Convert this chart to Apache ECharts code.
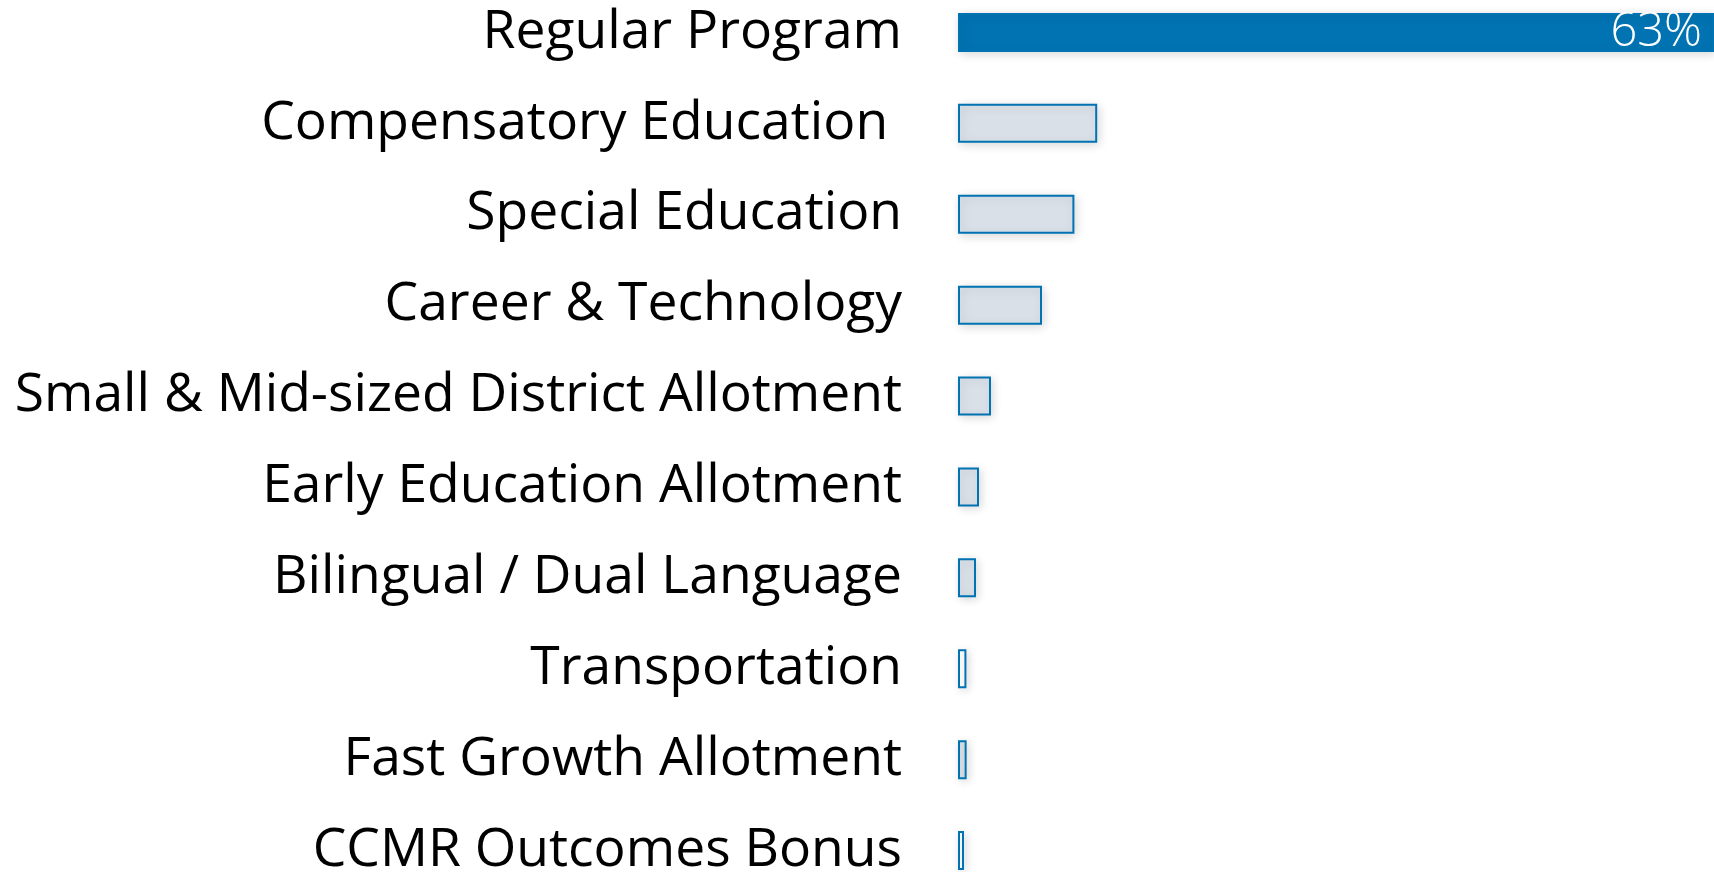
<!DOCTYPE html>
<html>
<head>
<meta charset="utf-8">
<script src="https://cdn.jsdelivr.net/npm/echarts@6/dist/echarts.min.js"></script>
<style>
html,body{margin:0;padding:0;background:#fff;}
#chart{width:1714px;height:872px;}
</style>
</head>
<body>
<div id="chart"></div>
<script>
const categories = [
  "Regular Program",
  "Compensatory Education ",
  "Special Education",
  "Career & Technology",
  "Small & Mid-sized District Allotment",
  "Early Education Allotment",
  "Bilingual / Dual Language",
  "Transportation",
  "Fast Growth Allotment",
  "CCMR Outcomes Bonus"
];
const shares = [63, 11.6, 9.7, 7.0, 2.75, 1.75, 1.5, 0.7, 0.72, 0.5];
const labelText = ["63%", "", "", "", "", "", "", "", "", ""];
const fillColors = ["#0173b2", "#d9e0e7", "#d9e0e7", "#d9e0e7", "#d9e0e7", "#d9e0e7", "#d9e0e7", "#ffffff", "#d9e0e7", "#ffffff"];

const chart = echarts.init(document.getElementById('chart'));
chart.setOption({
  animation: false,
  backgroundColor: '#ffffff',
  grid: { left: 958, right: 0, top: -13, height: 909, outerBoundsMode: 'none', containLabel: false },
  xAxis: {
    type: 'value', min: 0, max: 63,
    show: false
  },
  yAxis: {
    type: 'category',
    data: categories,
    inverse: true,
    axisLine: { show: false },
    axisTick: { show: false },
    splitLine: { show: false },
    axisLabel: {
      margin: 56,
      color: '#000000',
      fontFamily: 'Open Sans',
      fontSize: 53.4
    }
  },
  series: [{
    type: 'bar',
    barWidth: 39,
    data: shares.map((v, i) => ({
      value: v,
      itemStyle: { color: fillColors[i] },
      label: { show: labelText[i] !== '' }
    })),
    itemStyle: {
      borderColor: '#0173b2',
      borderWidth: 2,
      shadowBlur: 10,
      shadowColor: 'rgba(0,0,0,0.14)',
      shadowOffsetX: 2,
      shadowOffsetY: 2
    },
    label: {
      position: 'insideRight',
      distance: 12,
      color: '#ffffff',
      fontFamily: 'Open Sans',
      fontWeight: 300,
      fontSize: 47,
      formatter: p => labelText[p.dataIndex]
    }
  }]
});
</script>
</body>
</html>
